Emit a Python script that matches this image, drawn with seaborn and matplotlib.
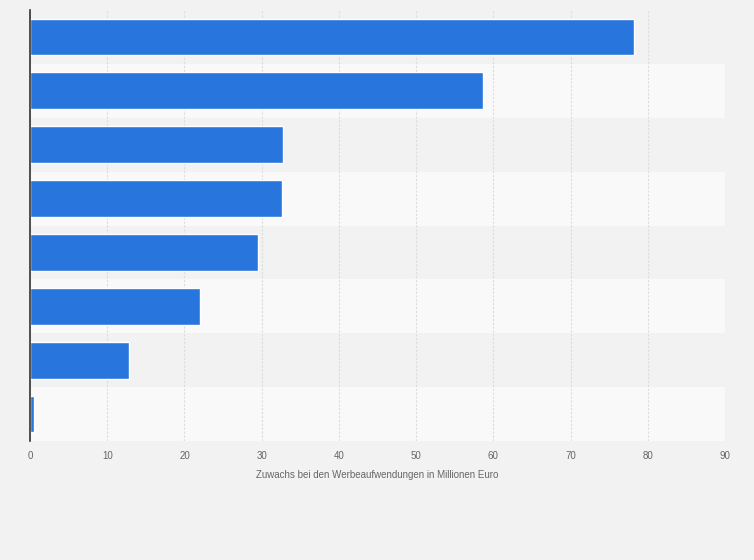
import matplotlib
matplotlib.use("Agg")
import matplotlib.pyplot as plt
import seaborn as sns
import pandas as pd

categories = ["Kategorie 1", "Kategorie 2", "Kategorie 3", "Kategorie 4",
              "Kategorie 5", "Kategorie 6", "Kategorie 7", "Kategorie 8"]
values = [78.2, 58.7, 32.8, 32.6, 29.5, 22.0, 12.8, 0.5]
x_ticks = [0, 10, 20, 30, 40, 50, 60, 70, 80, 90]
x_label = "Zuwachs bei den Werbeaufwendungen in Millionen Euro"

df = pd.DataFrame({"cat": categories, "val": values})

sns.set_theme(style="white")
plt.rcParams['font.family'] = ['Liberation Sans', 'DejaVu Sans']

fig = plt.figure(figsize=(7.54, 5.6), dpi=100, facecolor="#f2f2f2")
ax = fig.add_axes([30/754, 1-441/560, (725-30)/754, (441-10)/560])
ax.set_facecolor("#f9f9f9")

n = len(categories)
for i in range(n):
    if i % 2 == 0:
        ax.axhspan(i - 0.5, i + 0.5, color="#f2f2f2", zorder=0, lw=0)

sns.barplot(data=df, x="val", y="cat", orient="h", color="#2876dd",
            saturation=1, width=0.68, ax=ax, zorder=3)

ax.set_xlim(0, 90)
ax.set_ylim(n - 0.5, -0.5)
ax.set_xticks(x_ticks)
ax.set_xticklabels([str(t) for t in x_ticks], color="#666666", fontsize=7)
ax.set_yticks(range(n))
ax.set_yticklabels([])
ax.tick_params(axis="both", length=0)
ax.tick_params(axis="x", pad=7)
ax.set_ylabel("")
ax.set_xlabel(x_label, color="#666666", fontsize=7, labelpad=7)
ax.grid(axis="x", color="#dcdcdc", linestyle=(0, (2, 1.5)), lw=0.8, zorder=1)
ax.set_axisbelow(True)
for s in ["top", "right", "bottom"]:
    ax.spines[s].set_visible(False)
ax.spines["left"].set_color("#333333")
ax.spines["left"].set_linewidth(1.2)
ax.spines["left"].set_zorder(5)

fig.savefig("out.png", dpi=100, facecolor=fig.get_facecolor())
